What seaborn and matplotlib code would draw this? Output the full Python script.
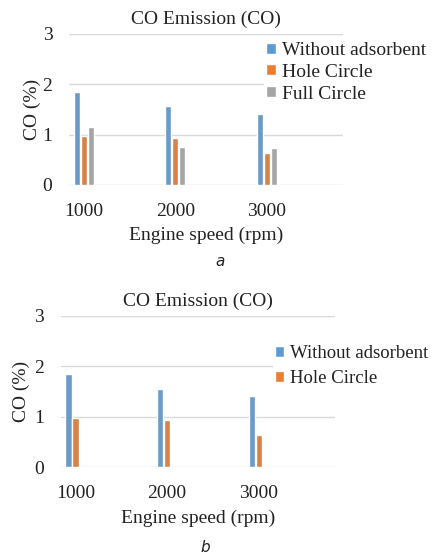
import pandas as pd
import matplotlib.pyplot as plt
from matplotlib.patches import Patch
import seaborn as sns

sns.set_style("white")
plt.rcParams['font.family'] = ['Liberation Serif', 'DejaVu Serif']

# data
speeds = ["1000", "2000", "3000"]
series = ["Without adsorbent", "Hole Circle", "Full Circle"]
without_ads = [1.84, 1.56, 1.41]
hole_circle = [0.98, 0.93, 0.635]
full_circle = [1.16, 0.755, 0.74]
yticks = [0, 1, 2, 3]

colors = {"Without adsorbent": "#5B9BD5", "Hole Circle": "#ED7D31", "Full Circle": "#A5A5A5"}


def long_df(cols):
    rows = []
    for name, vals in cols.items():
        for s, v in zip(speeds, vals):
            rows.append({"speed": s, "series": name, "CO": v})
    return pd.DataFrame(rows)


df_a = long_df({"Without adsorbent": without_ads, "Hole Circle": hole_circle, "Full Circle": full_circle})
df_b = long_df({"Without adsorbent": without_ads, "Hole Circle": hole_circle})

fig = plt.figure(figsize=(4.32, 5.57), dpi=100)
ax1 = fig.add_axes([0.160, 0.668, 0.634, 0.271])
ax2 = fig.add_axes([0.141, 0.161, 0.634, 0.272])


def draw(ax, df, shown, leg_anchor, leg_space, leg_size, ypad):
    sns.barplot(data=df, x="speed", y="CO", hue="series", hue_order=series,
                order=speeds, palette=colors, width=0.23, gap=0.12,
                errorbar=None, legend=False, ax=ax, zorder=2)
    ax.set_ylim(0, 3)
    ax.set_yticks(yticks)
    ax.set_xlim(-0.16, 2.83)
    ax.yaxis.grid(True, color="#D9D9D9", linewidth=1, zorder=0)
    ax.set_axisbelow(True)
    for sp in ax.spines.values():
        sp.set_visible(False)
    ax.tick_params(axis="both", length=0, labelsize=14, colors="#222222")
    ax.tick_params(axis="x", pad=13)
    ax.tick_params(axis="y", pad=12)
    ax.set_title("CO Emission (CO)", fontsize=14, color="#222222", pad=7)
    ax.set_xlabel("Engine speed (rpm)", fontsize=14, color="#222222", labelpad=5)
    ax.set_ylabel("CO (%)", fontsize=14, color="#222222", labelpad=ypad)
    handles = [Patch(facecolor=colors[s], label=s) for s in shown]
    leg = ax.legend(handles=handles, loc="upper left", bbox_to_anchor=leg_anchor,
                    bbox_transform=fig.transFigure, frameon=True, fontsize=leg_size,
                    handlelength=0.5, handleheight=0.5, handletextpad=0.3,
                    labelspacing=leg_space, borderpad=0.1, borderaxespad=0)
    leg.get_frame().set_edgecolor("none")
    leg.get_frame().set_facecolor("white")
    leg.get_frame().set_alpha(1)
    for t in leg.get_texts():
        t.set_color("#222222")


draw(ax1, df_a, series, (264 / 432, 1 - 40 / 557), 0.25, 14, 1)
draw(ax2, df_b, series[:2], (273 / 432, 1 - 343 / 557), 0.45, 13.5, 3)

fig.text(220 / 432, 1 - 262 / 557, "a", fontsize=11, style="italic",
         family="DejaVu Sans", ha="center", va="center", color="#222222")
fig.text(205 / 432, 1 - 547 / 557, "b", fontsize=11, style="italic",
         family="DejaVu Sans", ha="center", va="center", color="#222222")

fig.savefig("out.png", dpi=100)
